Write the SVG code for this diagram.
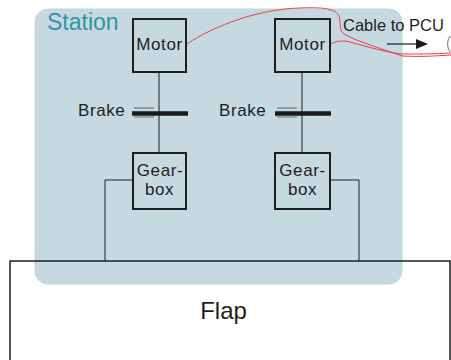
<svg xmlns="http://www.w3.org/2000/svg" width="451" height="360" viewBox="0 0 451 360">
<defs>
<style>
.box{fill:none;stroke:#1e1e1e;stroke-width:2}
.ln{fill:none;stroke:#1e1e1e;stroke-width:1}
.bar{stroke:#1a1a1a;stroke-width:4.5}
.gr{stroke:#8a8a8a;stroke-width:1.5}
.cab{fill:none;stroke:#e8404a;stroke-width:1}
.t{font-family:"Liberation Sans",Arial,sans-serif;font-size:17px;fill:#1e1e1e;letter-spacing:0.6px}
.c{text-anchor:middle}
</style>
</defs>
<rect width="451" height="360" fill="#ffffff"/>
<g id="station">
<rect x="35" y="9" width="367" height="275" rx="13" fill="#c6d8e0" stroke="#b8ddd0" stroke-width="1"/>
<text x="47" y="30" font-family="'Liberation Sans',Arial,sans-serif" font-size="23" fill="#2f95a8">Station</text>
</g>
<g id="flap">
<rect x="10" y="261" width="440" height="110" fill="none" stroke="#1e1e1e" stroke-width="1.5"/>
<text x="223.5" y="319" class="c" font-family="'Liberation Sans',Arial,sans-serif" font-size="24" fill="#1e1e1e">Flap</text>
</g>
<g id="connectors">
<path class="ln" d="M159,72 V153"/>
<path class="ln" d="M302,72 V153"/>
<path class="ln" d="M133,180 H105 V261"/>
<path class="ln" d="M330,180 H359 V261"/>
<path class="cab" d="M187,44 C215,25 260,9 300,8 C325,7 336,9 339,16 C341,22 339,30 343,33 C352,40 380,48 402,56 C420,57 435,56 451,55"/>
<path class="cab" d="M331,44 C336,41 342,40 350,42 C368,47 385,52 402,54 C420,54 435,54 451,53"/>
<path d="M387,44 H417" stroke="#1a1a1a" stroke-width="1.2"/>
<polygon points="416,39 428,44 416,49" fill="#1a1a1a"/>
<path d="M450,36 Q445,44 450,52" fill="none" stroke="#8a8a8a" stroke-width="1.2"/>
</g>
<g id="motor1">
<rect class="box" x="133" y="19" width="53" height="53"/>
<text class="t c" x="159.5" y="50">Motor</text>
</g>
<g id="motor2">
<rect class="box" x="275" y="19" width="55" height="53"/>
<text class="t c" x="302.5" y="50">Motor</text>
</g>
<g id="brake1">
<text class="t" x="78" y="116">Brake</text>
<path class="gr" d="M134,108 H154 M134,117 H154"/>
<path class="bar" d="M132,113.5 H188"/>
</g>
<g id="brake2">
<text class="t" x="219" y="116">Brake</text>
<path class="gr" d="M277,108 H297 M277,117 H297"/>
<path class="bar" d="M275,113.5 H331"/>
</g>
<g id="gearbox1">
<rect class="box" x="133" y="153" width="53" height="56"/>
<text class="t c" x="160" y="176">Gear-</text>
<text class="t c" x="159.5" y="195">box</text>
</g>
<g id="gearbox2">
<rect class="box" x="275" y="153" width="55" height="56"/>
<text class="t c" x="302.5" y="176">Gear-</text>
<text class="t c" x="302.5" y="195">box</text>
</g>
<g id="cable-label">
<text x="343" y="31" font-family="'Liberation Sans',Arial,sans-serif" font-size="16.5" fill="#1e1e1e">Cable to PCU</text>
</g>
</svg>
